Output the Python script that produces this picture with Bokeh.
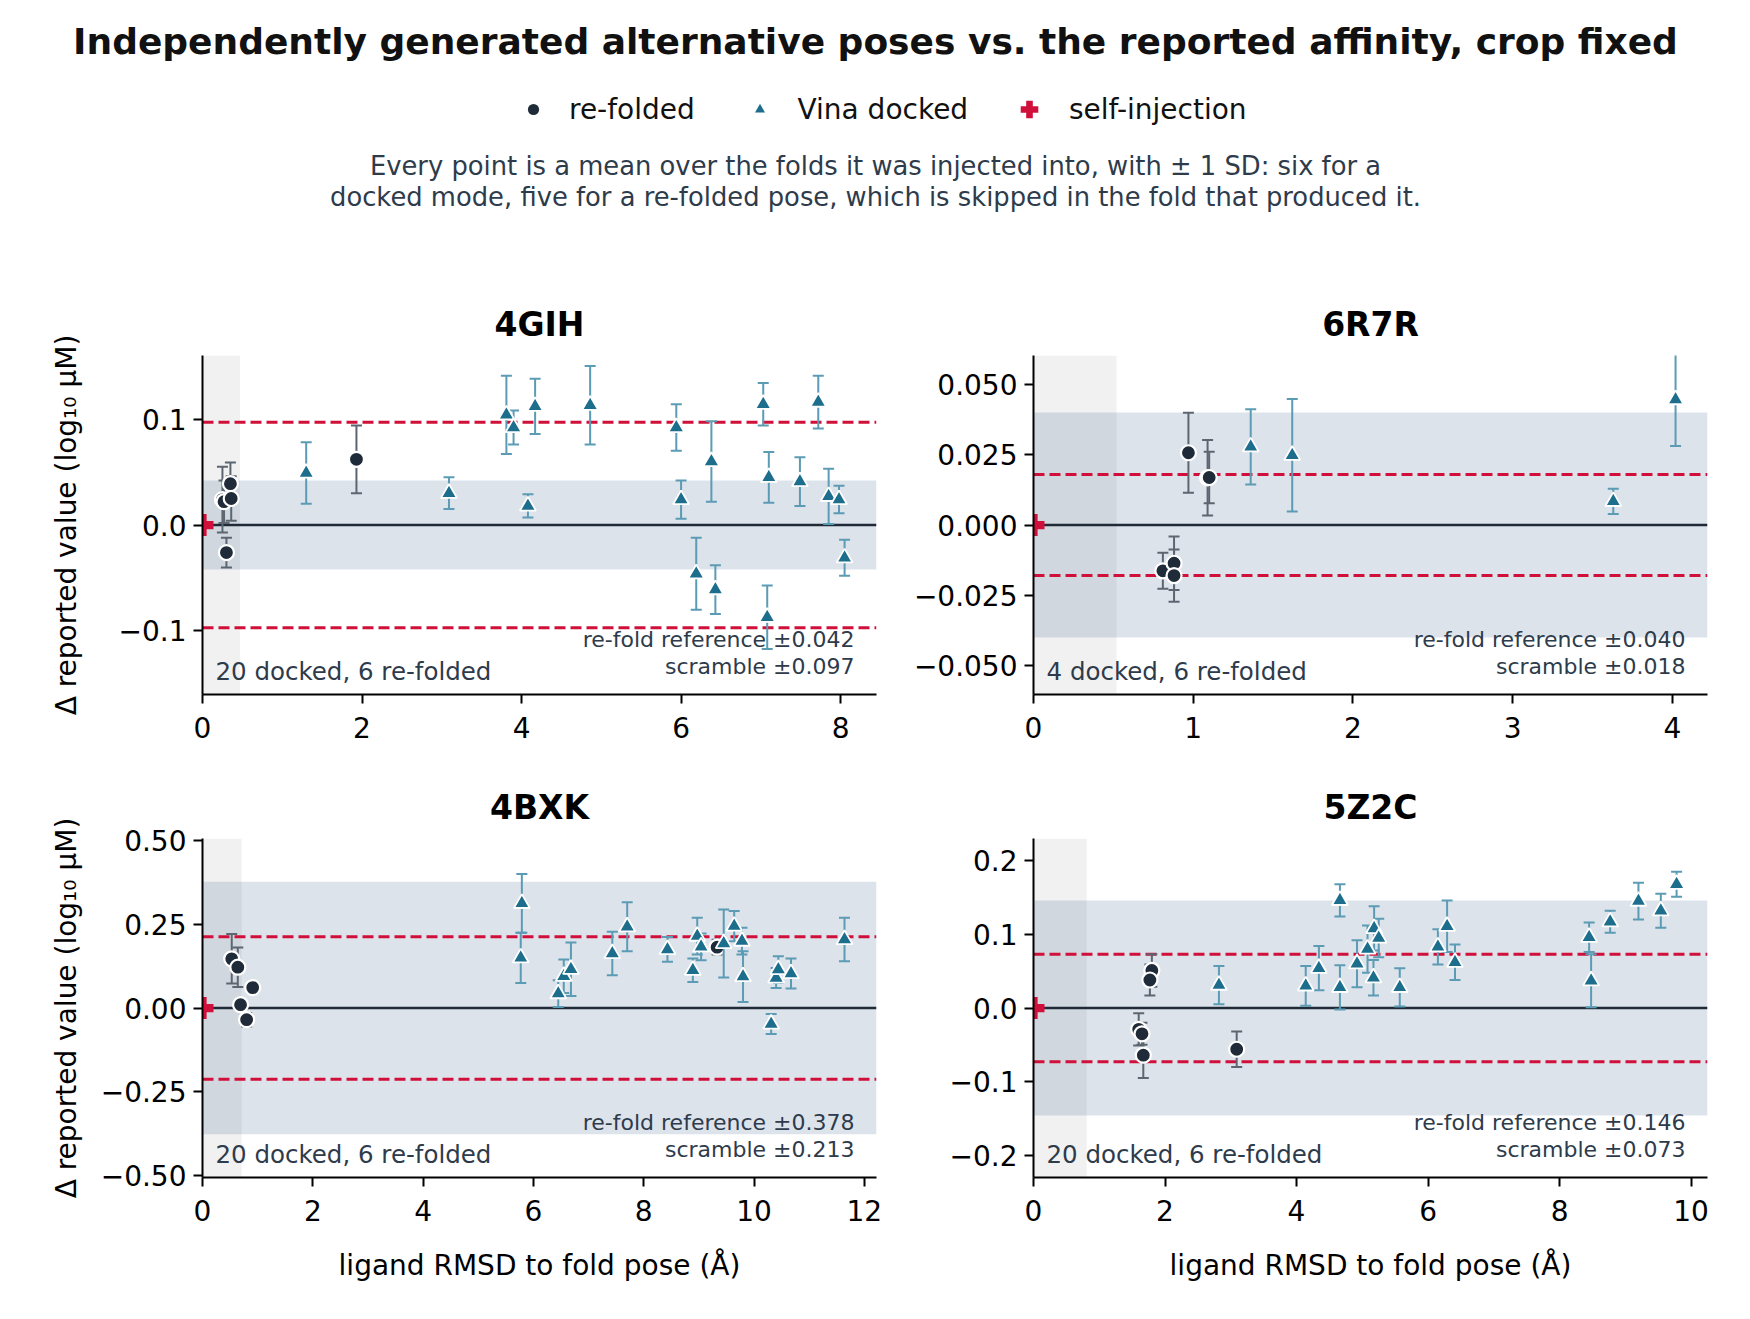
from bokeh.plotting import figure
from bokeh.models import (Range1d, FixedTicker, Span, BoxAnnotation, ColumnDataSource,
                          Label, Legend, LegendItem)
from bokeh.layouts import column, row
from bokeh.embed import file_html
from bokeh.resources import INLINE

FONT = "DejaVu Sans"
TITLE = "Independently generated alternative poses vs. the reported affinity, crop fixed"
SUBTITLE = ["Every point is a mean over the folds it was injected into, with \u00b1 1 SD: six for a",
            "docked mode, five for a re-folded pose, which is skipped in the fold that produced it."]
XLABEL = "ligand RMSD to fold pose (\u00c5)"
YLABEL = "\u0394 reported value (log\u2081\u2080 \u03bcM)"
LEGEND_LABELS = ["re-folded", "Vina docked", "self-injection"]

panel_names = ["4GIH", "6R7R", "4BXK", "5Z2C"]
refold_ref = [0.042, 0.040, 0.378, 0.146]
scramble = [0.097, 0.018, 0.213, 0.073]
crop_width = [0.47, 0.52, 0.71, 0.81]
x_max = [8.45, 4.22, 12.22, 10.25]
y_lim = [0.160, 0.0603, 0.507, 0.230]
x_ticks = [[0, 2, 4, 6, 8], [0, 1, 2, 3, 4], [0, 2, 4, 6, 8, 10, 12], [0, 2, 4, 6, 8, 10]]
y_ticks = [[-0.1, 0.0, 0.1],
           [-0.05, -0.025, 0.0, 0.025, 0.05],
           [-0.5, -0.25, 0.0, 0.25, 0.5],
           [-0.2, -0.1, 0.0, 0.1, 0.2]]
y_tick_labels = [["\u22120.1", "0.0", "0.1"],
                 ["\u22120.050", "\u22120.025", "0.000", "0.025", "0.050"],
                 ["\u22120.50", "\u22120.25", "0.00", "0.25", "0.50"],
                 ["\u22120.2", "\u22120.1", "0.0", "0.1", "0.2"]]

self_injection_x = [0.0]
self_injection_y = [0.0]

# ---- 4GIH
gih_dock_x = [1.30, 3.09, 3.81, 3.90, 4.08, 4.17, 4.86, 5.94, 6.00, 6.19,
              6.38, 6.43, 7.03, 7.08, 7.10, 7.49, 7.72, 7.85, 7.98, 8.05]
gih_dock_y = [0.049, 0.030, 0.104, 0.092, 0.018, 0.112, 0.113, 0.092, 0.024, -0.046,
              0.060, -0.061, 0.114, -0.087, 0.045, 0.041, 0.116, 0.027, 0.024, -0.031]
gih_dock_sd = [0.029, 0.015, 0.037, 0.016, 0.011, 0.026, 0.037, 0.022, 0.018, 0.034,
               0.038, 0.023, 0.020, 0.030, 0.024, 0.023, 0.025, 0.026, 0.013, 0.017]
gih_fold_x = [0.25, 0.27, 0.35, 0.36, 0.30, 1.93]
gih_fold_y = [0.024, 0.022, 0.039, 0.025, -0.026, 0.062]
gih_fold_sd = [0.031, 0.020, 0.020, 0.021, 0.014, 0.032]

# ---- 6R7R
r7r_dock_x = [1.36, 1.62, 3.63, 4.02]
r7r_dock_y = [0.0278, 0.0248, 0.0084, 0.0446]
r7r_dock_sd = [0.0134, 0.0200, 0.0045, 0.0165]
r7r_fold_x = [0.97, 1.09, 1.10, 0.81, 0.88, 0.88]
r7r_fold_y = [0.0257, 0.0168, 0.0169, -0.0163, -0.0136, -0.0180]
r7r_fold_sd = [0.0142, 0.0134, 0.0092, 0.0064, 0.0095, 0.0093]

# ---- 4BXK
bxk_dock_x = [5.77, 5.79, 6.45, 6.55, 6.68, 7.43, 7.70, 8.43, 8.89, 8.97,
              9.04, 9.45, 9.64, 9.78, 9.80, 10.31, 10.40, 10.44, 10.67, 11.64]
bxk_dock_y = [0.150, 0.313, 0.043, 0.095, 0.116, 0.163, 0.243, 0.175, 0.113, 0.215,
              0.183, 0.193, 0.245, 0.200, 0.094, -0.048, 0.090, 0.115, 0.103, 0.205]
bxk_dock_sd = [0.075, 0.088, 0.040, 0.050, 0.080, 0.065, 0.073, 0.037, 0.035, 0.055,
               0.040, 0.102, 0.045, 0.040, 0.076, 0.030, 0.030, 0.040, 0.045, 0.065]
bxk_fold_x = [0.53, 0.64, 0.91, 0.69, 0.80, 9.33]
bxk_fold_y = [0.147, 0.122, 0.061, 0.010, -0.035, 0.182]
bxk_fold_sd = [0.074, 0.059, 0.012, 0.012, 0.020, 0.022]

# ---- 5Z2C
z2c_dock_x = [2.82, 4.14, 4.34, 4.66, 4.66, 4.92, 5.08, 5.17, 5.18, 5.25,
              5.57, 6.15, 6.29, 6.41, 8.45, 8.48, 8.77, 9.20, 9.54, 9.78]
z2c_dock_y = [0.031, 0.030, 0.054, 0.146, 0.028, 0.060, 0.080, 0.041, 0.108, 0.095,
              0.028, 0.083, 0.111, 0.062, 0.096, 0.037, 0.117, 0.145, 0.132, 0.168]
z2c_dock_sd = [0.026, 0.027, 0.030, 0.022, 0.030, 0.032, 0.032, 0.024, 0.030, 0.026,
               0.026, 0.024, 0.035, 0.024, 0.020, 0.036, 0.015, 0.025, 0.023, 0.017]
z2c_fold_x = [1.80, 1.77, 1.60, 1.65, 1.67, 3.09]
z2c_fold_y = [0.051, 0.038, -0.029, -0.035, -0.064, -0.056]
z2c_fold_sd = [0.022, 0.021, 0.022, 0.015, 0.031, 0.024]

dock_data = [(gih_dock_x, gih_dock_y, gih_dock_sd), (r7r_dock_x, r7r_dock_y, r7r_dock_sd),
             (bxk_dock_x, bxk_dock_y, bxk_dock_sd), (z2c_dock_x, z2c_dock_y, z2c_dock_sd)]
fold_data = [(gih_fold_x, gih_fold_y, gih_fold_sd), (r7r_fold_x, r7r_fold_y, r7r_fold_sd),
             (bxk_fold_x, bxk_fold_y, bxk_fold_sd), (z2c_fold_x, z2c_fold_y, z2c_fold_sd)]

DOCK_C = "#1d6e8c"
DOCK_BAR = "#5b9bb4"
FOLD_C = "#1f2b38"
FOLD_BAR = "#5c6670"
RED = "#d0103a"
ZERO_C = "#1f2a36"
NOTE_C = "#2e3b4b"

FRAME_W = 674
FRAME_H = 339


def src_of(x, y, sd):
    return ColumnDataSource(dict(x=list(x), y=list(y),
                                 lo=[a - b for a, b in zip(y, sd)],
                                 hi=[a + b for a, b in zip(y, sd)]))


def make_panel(i, width, height, bl, br, bt, bb, xlab, ylab, ylab_standoff):
    p = figure(width=width, height=height, output_backend="svg", toolbar_location=None,
               x_range=Range1d(0, x_max[i]), y_range=Range1d(-y_lim[i], y_lim[i]),
               min_border_left=bl, min_border_right=br, min_border_top=bt,
               min_border_bottom=bb, title=panel_names[i])
    p.outline_line_color = None
    p.grid.visible = False
    p.title.text_font = FONT
    p.title.text_font_size = "33px"
    p.title.text_font_style = "bold"
    p.title.text_color = "black"
    p.title.align = "center"
    p.title.standoff = 24

    p.add_layout(BoxAnnotation(left=0, right=crop_width[i], fill_color="black",
                               fill_alpha=0.055, line_color=None, level="underlay"))
    p.add_layout(BoxAnnotation(bottom=-refold_ref[i], top=refold_ref[i], fill_color="#426490",
                               fill_alpha=0.18, line_color=None, level="underlay"))
    p.add_layout(Span(location=0, dimension="width", line_color=ZERO_C, line_width=2.5,
                      level="underlay"))
    for s in (scramble[i], -scramble[i]):
        p.add_layout(Span(location=s, dimension="width", line_color=RED, line_width=3,
                          line_dash="11 5", level="underlay"))

    fs = src_of(*fold_data[i])
    ds = src_of(*dock_data[i])
    p.segment(x0="x", y0="lo", x1="x", y1="hi", source=fs, line_color=FOLD_BAR, line_width=2)
    p.scatter(x="x", y="lo", source=fs, marker="dash", size=11, line_color=FOLD_BAR, line_width=2)
    p.scatter(x="x", y="hi", source=fs, marker="dash", size=11, line_color=FOLD_BAR, line_width=2)
    p.scatter(x="x", y="y", source=fs, marker="circle", size=15, fill_color=FOLD_C,
              line_color="white", line_width=2.2)
    p.segment(x0="x", y0="lo", x1="x", y1="hi", source=ds, line_color=DOCK_BAR, line_width=2)
    p.scatter(x="x", y="lo", source=ds, marker="dash", size=11, line_color=DOCK_BAR, line_width=2)
    p.scatter(x="x", y="hi", source=ds, marker="dash", size=11, line_color=DOCK_BAR, line_width=2)
    p.scatter(x="x", y="y", source=ds, marker="triangle", size=16, fill_color=DOCK_C,
              line_color="white", line_width=1.8)
    p.scatter(x=self_injection_x, y=self_injection_y, marker="plus", size=22,
              fill_color=RED, line_color=None)

    for ax in (p.xaxis[0], p.yaxis[0]):
        ax.axis_line_width = 2
        ax.axis_line_color = "black"
        ax.major_tick_line_width = 2
        ax.major_tick_line_color = "black"
        ax.major_tick_out = 9
        ax.major_tick_in = 0
        ax.minor_tick_line_color = None
        ax.major_label_text_font = FONT
        ax.major_label_text_font_size = "28px"
        ax.major_label_text_color = "black"
        ax.axis_label_text_font = FONT
        ax.axis_label_text_font_size = "28px"
        ax.axis_label_text_font_style = "normal"
        ax.axis_label_text_color = "black"
    p.xaxis.ticker = FixedTicker(ticks=x_ticks[i])
    p.yaxis.ticker = FixedTicker(ticks=y_ticks[i])
    p.yaxis.major_label_overrides = dict(zip(y_ticks[i], y_tick_labels[i]))
    p.xaxis.major_label_standoff = 13
    p.yaxis.major_label_standoff = 7
    if xlab:
        p.xaxis.axis_label = XLABEL
        p.xaxis.axis_label_standoff = 25
    if ylab:
        p.yaxis.axis_label = YLABEL
        p.yaxis.axis_label_standoff = ylab_standoff

    xr = x_max[i]
    yr = 2 * y_lim[i]
    n_dock = len(dock_data[i][0])
    n_fold = len(fold_data[i][0])
    p.add_layout(Label(x=xr * 13 / FRAME_W, y=-y_lim[i] + yr * 23 / FRAME_H,
                       text=f"{n_dock} docked, {n_fold} re-folded", text_font=FONT,
                       text_font_size="24.5px", text_color=NOTE_C, text_align="left",
                       text_baseline="middle"))
    p.add_layout(Label(x=xr * (FRAME_W - 22) / FRAME_W, y=-y_lim[i] + yr * 55 / FRAME_H,
                       text=f"re-fold reference \u00b1{refold_ref[i]:.3f}", text_font=FONT,
                       text_font_size="22px", text_color=NOTE_C, text_align="right",
                       text_baseline="middle"))
    p.add_layout(Label(x=xr * (FRAME_W - 22) / FRAME_W, y=-y_lim[i] + yr * 28 / FRAME_H,
                       text=f"scramble \u00b1{scramble[i]:.3f}", text_font=FONT,
                       text_font_size="22px", text_color=NOTE_C, text_align="right",
                       text_baseline="middle"))
    return p


# ---- header
HW, HH = 1734, 270
hdr = figure(width=HW, height=HH, x_range=Range1d(0, HW), y_range=Range1d(HH, 0),
             output_backend="svg", toolbar_location=None, min_border=0,
             x_axis_type=None, y_axis_type=None)
hdr.outline_line_color = None
hdr.add_layout(Label(x=875, y=41, text=TITLE, text_align="center", text_baseline="middle",
                     text_font=FONT, text_font_size="36px", text_font_style="bold",
                     text_color="#111111"))
for k, line in enumerate(SUBTITLE):
    hdr.add_layout(Label(x=875, y=165 + 31 * k, text=line, text_align="center",
                         text_baseline="middle", text_font=FONT, text_font_size="25.8px",
                         text_color=NOTE_C))

NAN = [float("nan")]
r_fold = hdr.scatter(x=NAN, y=NAN, marker="circle", fill_color=FOLD_C, line_color=None)
r_dock = hdr.scatter(x=NAN, y=NAN, marker="triangle", fill_color=DOCK_C, line_color=None)
r_self = hdr.scatter(x=NAN, y=NAN, marker="plus", fill_color=RED, line_color=None)

for lab, rend, gx, gw, stand in ((LEGEND_LABELS[0], r_fold, 519, 28, 22),
                                 (LEGEND_LABELS[1], r_dock, 746.5, 25, 26),
                                 (LEGEND_LABELS[2], r_self, 1007, 44, 18)):
    leg = Legend(items=[LegendItem(label=lab, renderers=[rend])], location=(gx, 139),
                 orientation="horizontal", glyph_width=gw, glyph_height=44,
                 label_standoff=stand, padding=0, margin=0, spacing=0,
                 border_line_color=None, background_fill_alpha=0,
                 label_text_font=FONT, label_text_font_size="28px",
                 label_text_color="#111111")
    hdr.add_layout(leg)

tl = make_panel(0, 908, 484, 202, 32, 85, 60, False, True, 33)
tr = make_panel(1, 826, 484, 125, 27, 85, 60, False, False, 0)
bl = make_panel(2, 908, 543, 202, 32, 84, 120, True, True, 15)
br = make_panel(3, 826, 543, 125, 27, 84, 120, True, False, 0)

layout = column(hdr, row(tl, tr), row(bl, br))
open("out.html", "w").write(file_html(layout, INLINE))
